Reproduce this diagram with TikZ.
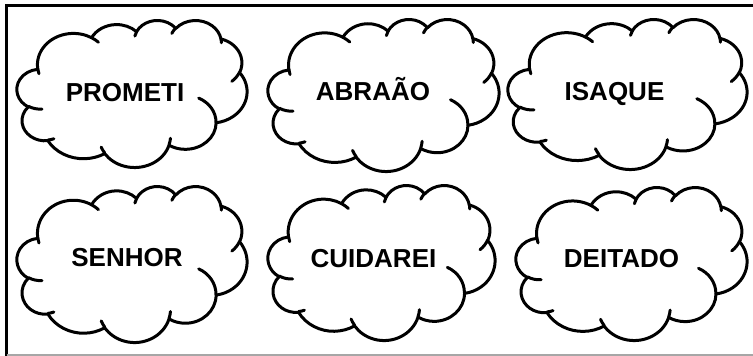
\documentclass[tikz,border=0pt]{standalone}
\usepackage{fontspec}
\setmainfont{Liberation Sans}
\tikzset{
  ooarc/.code n args={4}{%
    \pgfmathsetmacro\oops{atan2((#1)*sin(#3),(#2)*cos(#3))}%
    \pgfmathsetmacro\oope{atan2((#1)*sin((#3)+(#4)),(#2)*cos((#3)+(#4)))}%
    \pgfmathsetmacro\oopd{\oope-\oops-(#4)}%
    \pgfmathsetmacro\oope{\oope-360*round(\oopd/360)}%
    \edef\oopath{\noexpand\tikzset{insert path={arc[start angle=\oops,end angle=\oope,x radius=#1,y radius=#2]}}}%
    \oopath},
  cloudline/.style={line width=3pt, line join=round, line cap=round},
  word/.style={font=\fontsize{26}{30}\selectfont\bfseries, inner sep=0pt, anchor=base}
}
\newcommand\wcloud[4]{%
  \pgfmathsetmacro\wcsx{#3/432}\pgfmathsetmacro\wcsy{#4/432}%
  \begin{scope}[shift={(#1,#2)}, x=\wcsx pt, y=-\wcsy pt]
    \draw[cloudline, fill=white] (39,143.7)
      [ooarc={67.53}{91.90}{-190.4875}{123.7805}]
      [ooarc={53.33}{72.67}{-144.1024}{89.9452}]
      [ooarc={43.65}{59.45}{-145.8079}{99.7230}]
      [ooarc={48.57}{65.95}{-130.9861}{117.2417}]
      [ooarc={53.33}{72.73}{-78.7089}{109.0269}]
      [ooarc={67.75}{92.20}{-46.2673}{130.2690}]
      [ooarc={57.85}{78.67}{0.6250}{114.0333}]
      [ooarc={67.52}{92.15}{22.4516}{115.1726}]
      [ooarc={77.20}{105.43}{66.2426}{75.7110}]
      [ooarc={43.60}{59.18}{-274.9421}{146.7356}]
      [ooarc={43.45}{59.45}{-246.8285}{152.5189}] -- cycle;
    \draw[cloudline]
      (46.93,261.77) [ooarc={43.45}{59.45}{86.742}{26.4295}]
      (69.28,348.99) [ooarc={43.60}{59.18}{73.6105}{11.4475}]
      (164.78,390.90) [ooarc={67.52}{92.15}{137.6242}{14.0811}]
      (288.27,347.51) [ooarc={67.52}{92.15}{6.4533}{15.9984}]
      (341.29,229.54) [ooarc={57.85}{78.67}{-70.2924}{70.9174}]
      (417.98,153.54) [ooarc={53.33}{72.73}{30.3180}{27.7515}]
      (383.24,54.26) [ooarc={48.57}{65.95}{-13.7443}{14.8589}]
      (290.78,39.52) [ooarc={48.57}{65.95}{-149.1815}{18.1954}]
      (221.41,47.20) [ooarc={43.65}{59.45}{-163.4943}{17.6864}]
      (140.00,51.92) [ooarc={67.53}{91.90}{-66.7070}{12.3194}]
      (41.27,157.89) [ooarc={67.53}{91.90}{157.6544}{11.8582}];
  \end{scope}}
\begin{document}
\begin{tikzpicture}[x=1pt, y=-1pt]
  \useasboundingbox (0,0) rectangle (753,356);
  % frame
  \draw[line width=3.4pt] (6.5,362) -- (6.5,5.7) -- (760,5.7);
  \draw[line width=1.6pt, black!35] (6.5,355.2) -- (760,355.2);
  % clouds
  \wcloud{17}{20}{230}{147}
  \wcloud{268}{19}{231}{152}
  \wcloud{508}{19}{239}{150}
  \wcloud{17}{186}{230}{156}
  \wcloud{268}{185}{227}{155}
  \wcloud{516}{187}{231}{153}
  % words
  \node[word] (w1) at (125,101.5) {PROMETI};
  \node[word] (w2) at (373,100.5) {ABRAÃO};
  \node[word] (w3) at (614.5,100) {ISAQUE};
  \node[word] (w4) at (127,266) {SENHOR};
  \node[word] (w5) at (373.5,267.5) {CUIDAREI};
  \node[word] (w6) at (621.5,267.5) {DEITADO};
\end{tikzpicture}
\end{document}
